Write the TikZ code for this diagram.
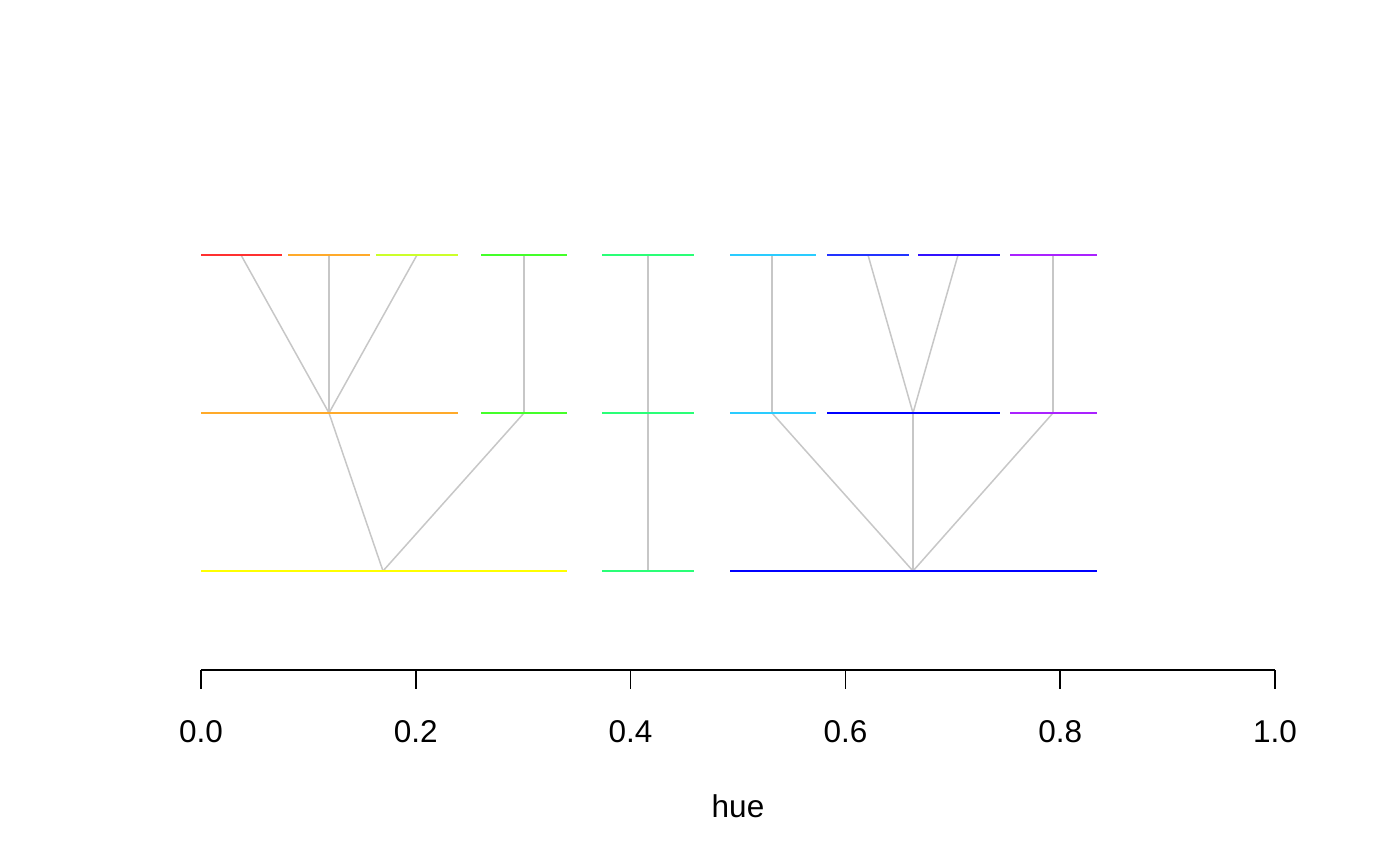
\documentclass[tikz,border=0pt]{standalone}
\usepackage{fontspec}
\setmainfont{Liberation Sans}
\begin{document}
\begin{tikzpicture}[x=1pt,y=-1pt,
  seg/.style={line width=2.2pt},
  link/.style={draw=black!22, line width=1.5pt},
  axisline/.style={line width=1.5pt, draw=black},
  ticklabel/.style={font=\fontsize{31.5}{36}\selectfont, anchor=center},
]
\useasboundingbox (0,0) rectangle (1400,866);
% colours
\definecolor{cRed}{HTML}{FF3030}
\definecolor{cOrange}{HTML}{FFAA2A}
\definecolor{cYG}{HTML}{CCFF2A}
\definecolor{cGreen}{HTML}{44FF2A}
\definecolor{cSpring}{HTML}{2AFF77}
\definecolor{cCyan}{HTML}{2ACCFF}
\definecolor{cBlue}{HTML}{2233FF}
\definecolor{cViolet}{HTML}{3311FF}
\definecolor{cPurple}{HTML}{AA22FF}
\definecolor{cYellow}{HTML}{FFFF00}
\definecolor{cBlueB}{HTML}{0000FF}
% top row nodes
\coordinate (t1) at (241,255);
\coordinate (t2) at (329,255);
\coordinate (t3) at (417,255);
\coordinate (t4) at (524,255);
\coordinate (t5) at (648,255);
\coordinate (t6) at (772,255);
\coordinate (t7) at (868,255);
\coordinate (t8) at (958,255);
\coordinate (t9) at (1053,255);
% middle row nodes
\coordinate (m1) at (329,413);
\coordinate (m2) at (524,413);
\coordinate (m3) at (648,413);
\coordinate (m4) at (772,413);
\coordinate (m5) at (913,413);
\coordinate (m6) at (1053,413);
% bottom row nodes
\coordinate (b1) at (383,571);
\coordinate (b2) at (648,571);
\coordinate (b3) at (913,571);
% connectors
\draw[link] (t1) -- (m1);
\draw[link] (t2) -- (m1);
\draw[link] (t3) -- (m1);
\draw[link] (t4) -- (m2);
\draw[link] (t5) -- (m3);
\draw[link] (t6) -- (m4);
\draw[link] (t7) -- (m5);
\draw[link] (t8) -- (m5);
\draw[link] (t9) -- (m6);
\draw[link] (m1) -- (b1);
\draw[link] (m2) -- (b1);
\draw[link] (m3) -- (b2);
\draw[link] (m4) -- (b3);
\draw[link] (m5) -- (b3);
\draw[link] (m6) -- (b3);
% top segments
\draw[seg, cRed] (201,255) -- (282,255);
\draw[seg, cOrange] (288,255) -- (370,255);
\draw[seg, cYG] (376,255) -- (458,255);
\draw[seg, cGreen] (481,255) -- (567,255);
\draw[seg, cSpring] (602,255) -- (694,255);
\draw[seg, cCyan] (730,255) -- (816,255);
\draw[seg, cBlue] (827,255) -- (909,255);
\draw[seg, cViolet] (918,255) -- (1000,255);
\draw[seg, cPurple] (1010,255) -- (1097,255);
% middle segments
\draw[seg, cOrange] (201,413) -- (458,413);
\draw[seg, cGreen] (481,413) -- (567,413);
\draw[seg, cSpring] (602,413) -- (694,413);
\draw[seg, cCyan] (730,413) -- (816,413);
\draw[seg, cBlueB] (827,413) -- (1000,413);
\draw[seg, cPurple] (1010,413) -- (1097,413);
% bottom segments
\draw[seg, cYellow] (201,571) -- (567,571);
\draw[seg, cSpring] (602,571) -- (694,571);
\draw[seg, cBlueB] (730,571) -- (1097,571);
% axis
\draw[axisline] (201,670) -- (1275,670);
\foreach \v/\lab [count=\i] in {0/0.0,0.2/0.2,0.4/0.4,0.6/0.6,0.8/0.8,1/1.0} {
  \draw[axisline] (201+1074*\v,670) -- (201+1074*\v,689);
  \node[ticklabel] (tl\i) at (201+1074*\v,732) {\lab};
}
\node[ticklabel] (xlab) at (738,806) {hue};
\end{tikzpicture}
\end{document}
